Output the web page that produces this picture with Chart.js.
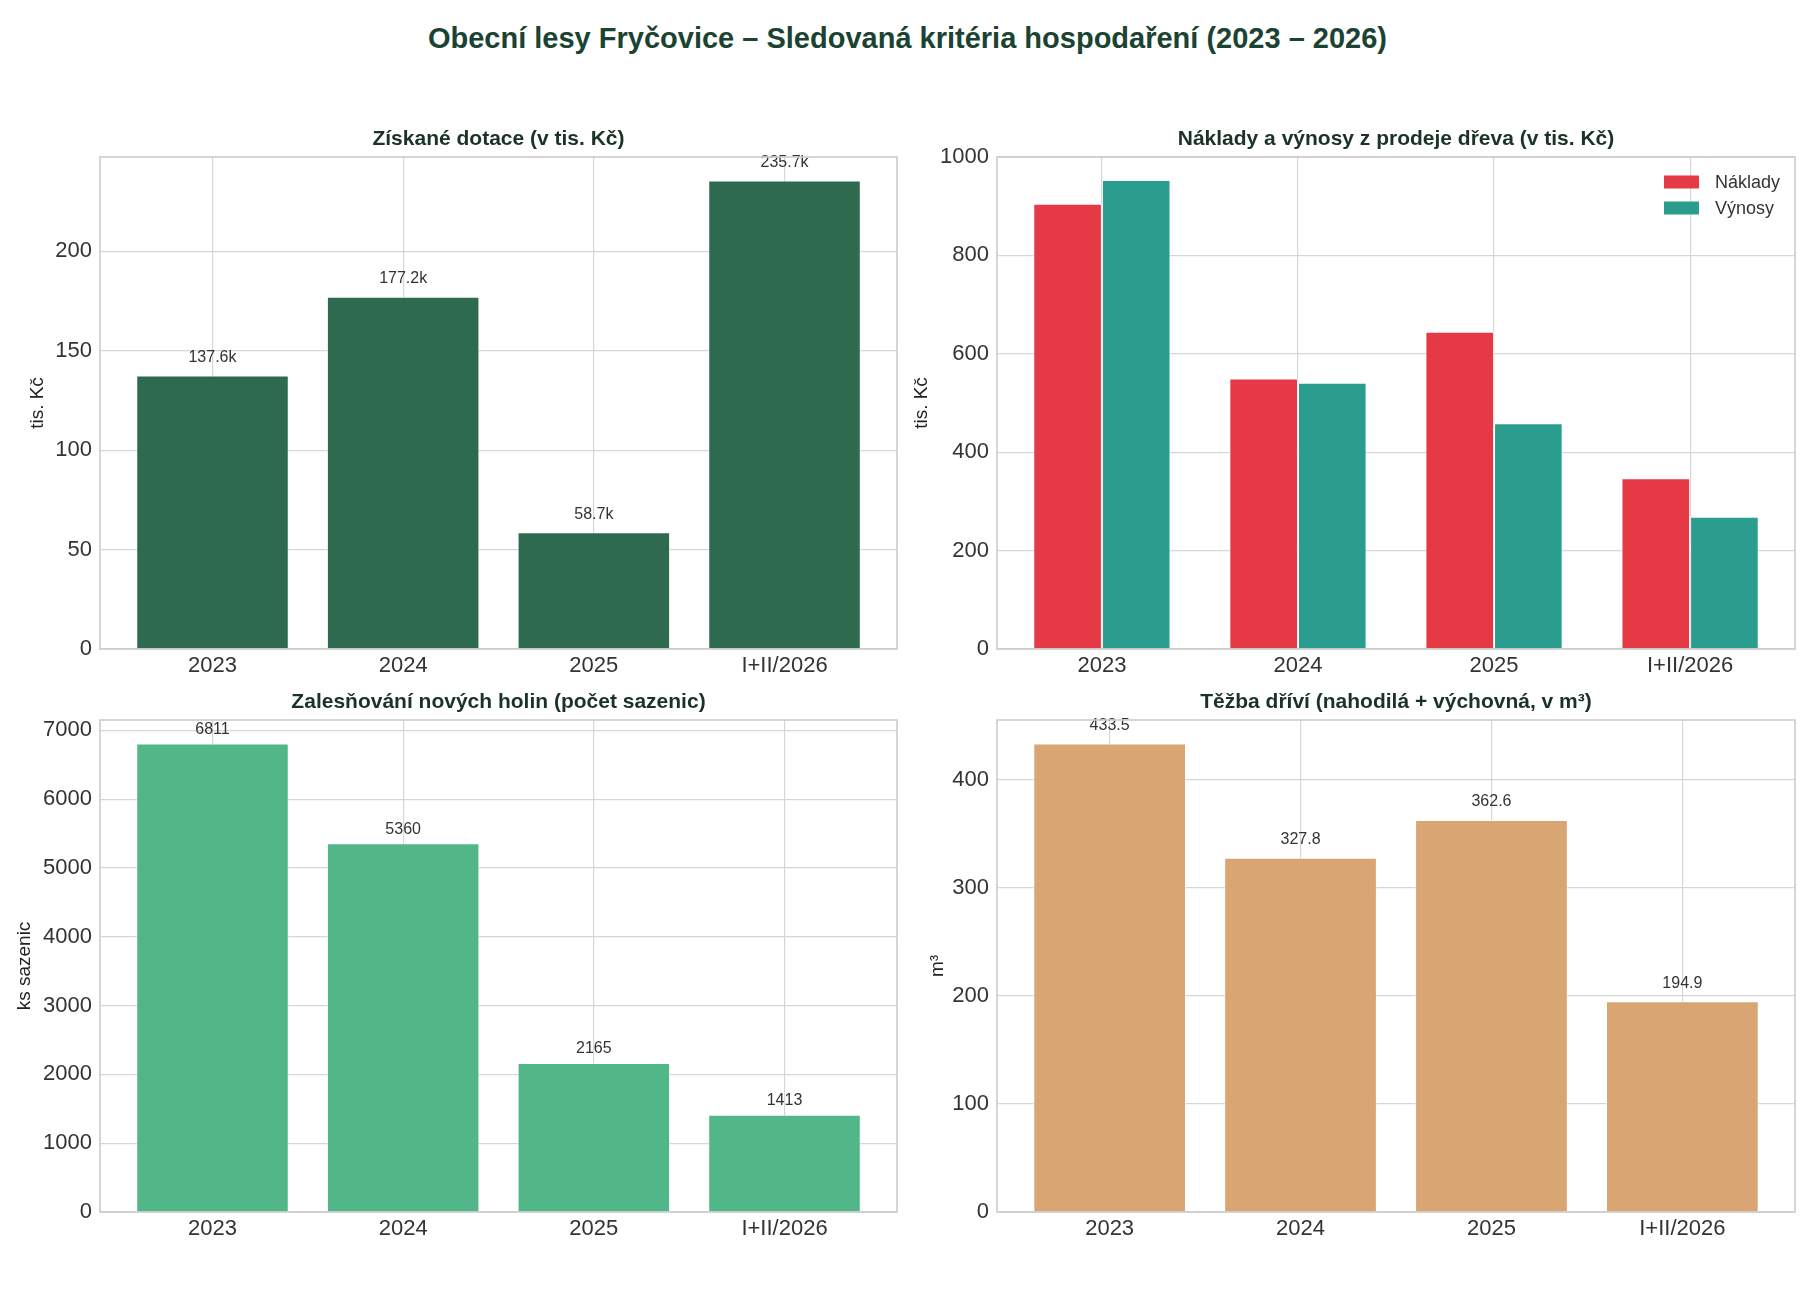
<!DOCTYPE html>
<html><head><meta charset="utf-8">
<script src="https://cdn.jsdelivr.net/npm/chart.js@4.4.1/dist/chart.umd.min.js"></script>
<style>
html,body{margin:0;padding:0;background:#fff;}
body{width:1815px;height:1296px;position:relative;overflow:hidden;font-family:"Liberation Sans",Arial,sans-serif;}
#title{position:absolute;left:0;top:22px;width:1815px;text-align:center;font-weight:bold;font-size:29px;line-height:32px;color:#1b4332;}
canvas{position:absolute;}
</style></head><body>
<div id="title">Obecní lesy Fryčovice – Sledovaná kritéria hospodaření (2023 – 2026)</div>
<canvas id="c1"></canvas>
<canvas id="c2"></canvas>
<canvas id="c3"></canvas>
<canvas id="c4"></canvas>
<script>
// ---- data ----
const categories = ['2023', '2024', '2025', 'I+II/2026'];
const dotace = [137.6, 177.2, 58.7, 235.7];
const naklady = [905, 550, 645, 347];
const vynosy = [953, 541, 459, 269];
const sazenice = [6811, 5360, 2165, 1413];
const tezba = [433.5, 327.8, 362.6, 194.9];

const titles = [
  'Získané dotace (v tis. Kč)',
  'Náklady a výnosy z prodeje dřeva (v tis. Kč)',
  'Zalesňování nových holin (počet sazenic)',
  'Těžba dříví (nahodilá + výchovná, v m³)'
];
const yLabels = ['tis. Kč', 'tis. Kč', 'ks sazenic', 'm³'];
const seriesLabels = ['Náklady', 'Výnosy'];

const FONT = '"Liberation Sans", Arial, sans-serif';
const extras = {};

const framePlugin = {
  id: 'frame',
  afterDatasetsDraw(chart) {
    const o = extras[chart.canvas.id];
    const a = chart.chartArea;
    const ctx = chart.ctx;
    ctx.save();
    // value labels
    if (o.fmt) {
      ctx.font = '16px ' + FONT;
      ctx.fillStyle = '#333';
      ctx.textAlign = 'center';
      ctx.textBaseline = 'middle';
      o.series.forEach((s, di) => {
        chart.getDatasetMeta(di).data.forEach((el, i) => {
          ctx.fillText(o.fmt(s.values[i]), el.x, el.y - o.labOff);
        });
      });
    }
    // frame
    ctx.strokeStyle = '#cccccc';
    ctx.lineWidth = 1.6;
    ctx.strokeRect(a.left, a.top, a.right - a.left, a.bottom - a.top);
    // subplot title
    ctx.font = 'bold 21px ' + FONT;
    ctx.fillStyle = '#1b3326';
    ctx.textAlign = 'center';
    ctx.textBaseline = 'middle';
    ctx.fillText(o.title, (a.left + a.right) / 2, a.top - 18);
    // legend
    if (o.legend) {
      ctx.font = '18px ' + FONT;
      ctx.textAlign = 'left';
      o.series.forEach((s, di) => {
        const cy = a.top + 25 + di * 26;
        ctx.fillStyle = s.color;
        ctx.fillRect(a.right - 131, cy - 6.5, 35, 13);
        ctx.fillStyle = '#333';
        ctx.fillText(s.label, a.right - 80, cy + 1);
      });
    }
    ctx.restore();
  }
};

function makeChart(id, area, opts) {
  extras[id] = opts;
  const c = document.getElementById(id);
  const W = area.r - area.l + 110, H = area.b - area.t + 110;
  c.width = W; c.height = H;
  c.style.left = (area.l - 100) + 'px';
  c.style.top = (area.t - 60) + 'px';
  c.style.width = W + 'px';
  c.style.height = H + 'px';
  const datasets = opts.series.map(s => ({
    label: s.label,
    data: s.values.map((v, i) => ({x: i, y: v})),
    backgroundColor: s.color,
    borderColor: 'rgba(255,255,255,0.6)',
    borderWidth: 1,
    barPercentage: 1,
    categoryPercentage: opts.catPct
  }));
  const gridCol = '#d6d6d6';
  new Chart(c, {
    type: 'bar',
    data: {datasets},
    options: {
      responsive: false,
      animation: false,
      devicePixelRatio: 1,
      layout: {padding: {left: 0, top: 60, right: 10, bottom: 0}},
      plugins: {
        legend: {display: false},
        tooltip: {enabled: false}
      },
      scales: {
        x: {
          type: 'linear',
          min: opts.xmin, max: opts.xmax,
          offset: false,
          afterBuildTicks: s => { s.ticks = categories.map((_, i) => ({value: i})); },
          afterFit: s => { s.height = 50; },
          ticks: {
            callback: v => categories[v],
            font: {family: FONT, size: 22},
            color: '#333', padding: 4, autoSkip: false, maxRotation: 0
          },
          grid: {color: gridCol, lineWidth: 1.2, drawTicks: false, offset: false},
          border: {display: false}
        },
        y: {
          min: 0, max: opts.ymax,
          afterBuildTicks: s => {
            const t = [];
            for (let v = 0; v <= opts.ymax + 1e-9; v += opts.step) t.push({value: v});
            s.ticks = t;
          },
          afterFit: s => { s.width = 100; },
          ticks: {
            callback: v => String(v),
            font: {family: FONT, size: 22},
            color: '#333', padding: 8, autoSkip: false
          },
          grid: {color: gridCol, lineWidth: 1.2, drawTicks: false},
          border: {display: false},
          title: {
            display: true, text: opts.ylabel, color: '#222',
            font: {family: FONT, size: 19, lineHeight: 1.2},
            padding: {top: 100 - opts.ylabOff - 11.4, bottom: 0}
          }
        }
      }
    },
    plugins: [framePlugin]
  });
}

const maxOf = arr => Math.max.apply(null, arr);

makeChart('c1', {l: 100, t: 157, r: 897, b: 649}, {
  series: [{label: 'Dotace', values: dotace, color: '#2d6a4f'}],
  catPct: 0.8, xmin: -0.59, xmax: 3.59,
  ymax: maxOf(dotace) * 1.05, step: 50,
  title: titles[0], ylabel: yLabels[0], ylabOff: 62,
  fmt: v => v.toFixed(1) + 'k', labOff: 18
});

makeChart('c2', {l: 997, t: 157, r: 1795, b: 649}, {
  series: [
    {label: seriesLabels[0], values: naklady, color: '#e63946'},
    {label: seriesLabels[1], values: vynosy, color: '#2a9d8f'}
  ],
  catPct: 0.7, xmin: -0.535, xmax: 3.535,
  ymax: 1000, step: 200,
  title: titles[1], ylabel: yLabels[1], ylabOff: 75,
  fmt: null, legend: true
});

makeChart('c3', {l: 100, t: 720, r: 897, b: 1212}, {
  series: [{label: 'Sazenice', values: sazenice, color: '#52b788'}],
  catPct: 0.8, xmin: -0.59, xmax: 3.59,
  ymax: maxOf(sazenice) * 1.05, step: 1000,
  title: titles[2], ylabel: yLabels[2], ylabOff: 75,
  fmt: v => String(v), labOff: 14
});

makeChart('c4', {l: 997, t: 720, r: 1795, b: 1212}, {
  series: [{label: 'Těžba', values: tezba, color: '#d9a673'}],
  catPct: 0.8, xmin: -0.59, xmax: 3.59,
  ymax: maxOf(tezba) * 1.05, step: 100,
  title: titles[3], ylabel: yLabels[3], ylabOff: 59,
  fmt: v => v.toFixed(1), labOff: 18
});
</script>
</body></html>
